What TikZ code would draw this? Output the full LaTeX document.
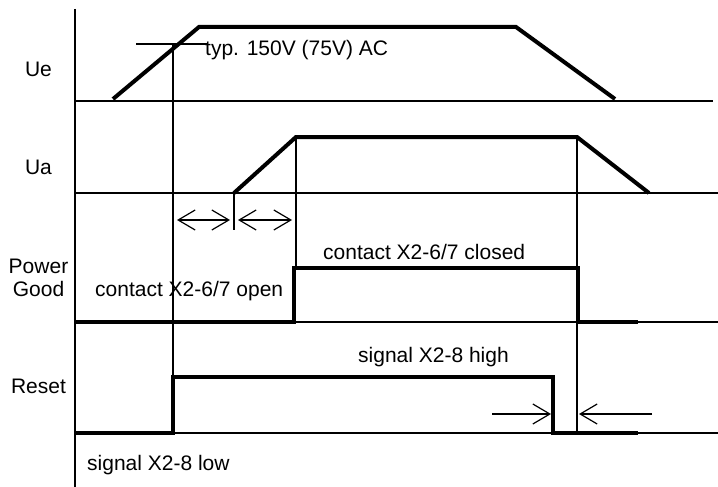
\documentclass[tikz,border=0pt]{standalone}
\usepackage{fontspec}
\setmainfont{Liberation Sans}
\usetikzlibrary{arrows.meta}
\tikzset{
  barb/.tip={Straight Barb[length=17pt,width=20pt]},
}
\begin{document}
\begin{tikzpicture}[x=1pt,y=-1pt,
  lbl/.style={inner sep=0pt,anchor=base,font=\fontsize{21}{23}\selectfont},
  txt/.style={inner sep=0pt,anchor=base west,font=\fontsize{21}{23}\selectfont},
  thin/.style={line width=1.2pt},
  sig/.style={line width=4pt,line join=miter},
  gap/.style={thin,barb-barb}]
  \useasboundingbox (0,0) rectangle (718,487);
  % axis and zero lines
  \draw[thin] (75,9) -- (75,487);
  \foreach \y/\r in {101/713,193/718,322/718,433/718}
    \draw[thin] (75,\y) -- (\r,\y);
  % key points
  \coordinate (thrL) at (136,44);
  \coordinate (thrX) at (173,44);
  \coordinate (thrR) at (208,44);
  \coordinate (uaStart) at (234,193);
  \coordinate (uaUp) at (296,137);
  \coordinate (uaDown) at (577,137);
  \coordinate (rstUp) at (173,377);
  \coordinate (pgUp) at (296,268);
  \coordinate (gapEnd) at (234,230);
  \coordinate (rstLow) at (577,433);
  % signals
  \draw[sig] (113,99) -- (199,27) -- (516,27) -- (615,99);
  \draw[sig] (uaStart) -- (uaUp) -- (uaDown) -- (649,193);
  \draw[sig] (75,322) -- (294,322) -- (294,268) -- (578,268) -- (578,322) -- (638,322);
  \draw[sig] (75,433) -- (173,433) -- (173,377) -- (553,377) -- (553,433) -- (638,433);
  % threshold and markers
  \draw[thin] (thrL) -- (thrR);
  \draw[thin] (thrX) -- (rstUp);
  \draw[thin] (uaStart) -- (gapEnd);
  \draw[thin] (uaUp) -- (pgUp);
  \draw[thin] (uaDown) -- (rstLow);
  % delays
  \draw[gap] (177,220) -- (230,220);
  \draw[gap] (238,220) -- (292,220);
  \draw[thin,-barb] (492,414) -- (551,414);
  \draw[thin,-barb] (652,414) -- (579,414);
  % labels
  \node[lbl] (ue) at (38.5,77) {Ue};
  \node[lbl] (ua) at (38.5,174) {Ua};
  \node[lbl,align=center] (pg) at (38.5,296) {Power\\Good};
  \node[lbl] (rst) at (38.5,393) {Reset};
  \node[txt] (thr) at (205,56) {typ. 150V (75V) AC};
  \node[txt] (open) at (95,296) {contact X2-6/7 open};
  \node[txt] (closed) at (323,259) {contact X2-6/7 closed};
  \node[txt] (high) at (358,362) {signal X2-8 high};
  \node[txt] (low) at (87,470) {signal X2-8 low};
\end{tikzpicture}
\end{document}
